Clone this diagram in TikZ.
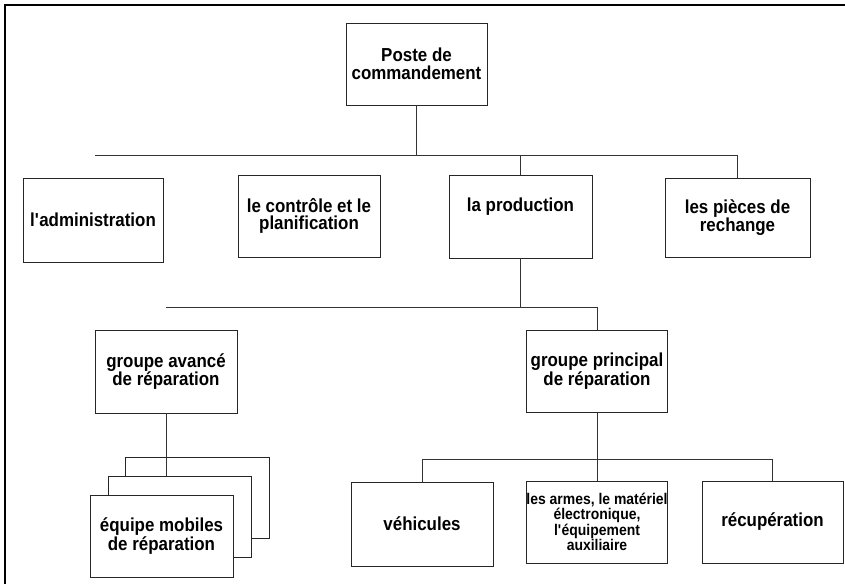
\documentclass[tikz,border=0pt]{standalone}
\usepackage{fontspec}
\setmainfont{Liberation Sans}[FakeStretch=0.9]
\usetikzlibrary{positioning}
\tikzset{
  orgbox/.style   = {draw=black!85, line width=0.7pt, fill=white, minimum width=142pt, minimum height=82pt, inner sep=0pt, align=center, font=\fontsize{18.8}{17.5}\selectfont\bfseries},
  smallbox/.style = {orgbox, font=\fontsize{15.5}{15.5}\selectfont\bfseries},
  card/.style     = {draw=black!85, line width=0.7pt, fill=white, minimum width=143pt, minimum height=81pt},
  link/.style     = {black!80, line width=0.7pt},
  pageframe/.style = {line width=1.3pt}
}

\begin{document}
\begin{tikzpicture}[x=1pt, y=-1pt]
  \useasboundingbox (0,0) rectangle (845,584);
  \draw[pageframe] (845,5) -- (5,5) -- (5,584);

  % top
  \node[orgbox, minimum width=141pt] (poste) at (416.5,64) {Poste de\\ commandement};

  % services
  \node[orgbox, minimum width=140pt, minimum height=84pt] (admin) at (93,220) {l\textquotesingle administration};
  \node[orgbox, minimum height=82pt] (controle) at (309,216) {le contrôle et le\\ planification};
  \node[orgbox, minimum width=143pt, minimum height=83pt] (prod) at (520.5,216.5) {la production\\ \strut};
  \node[orgbox, minimum width=145pt, minimum height=79pt] (pieces) at (737.5,217.5) {les pièces de\\ rechange};

  % groupes
  \node[orgbox, minimum height=83pt] (avance) at (166,371.5) {groupe avancé\\ de réparation};
  \node[orgbox, minimum width=141pt] (principal) at (597,371) {groupe principal\\ de réparation};

  % ateliers
  \node[orgbox, minimum height=84pt] (vehicules) at (422,524) {véhicules};
  \node[smallbox, minimum width=141pt] (armes) at (597,522) {les armes, le matériel\\ électronique,\\ l\textquotesingle équipement\\ auxiliaire};
  \node[orgbox, minimum width=141pt] (recup) at (772.5,522) {récupération};

  % equipes mobiles (pile)
  \node[card, minimum width=144pt] (card3) at (197,497.5) {};
  \node[card] (card2) at (179.5,516.5) {};
  \draw[link] (avance.south) -- (avance.south |- card2.north);
  \node[orgbox, minimum width=143pt] (mobile) at (161.5,536) {équipe mobiles\\ de réparation};

  % liaisons
  \coordinate (bus1) at (95,155);
  \coordinate (bus2) at (166,307);
  \coordinate (bus3) at (0,459);
  \draw[link] (poste.south) -- (poste.south |- bus1);
  \draw[link] (bus1) -| (pieces.north);
  \draw[link] (prod.north) -- (prod.north |- bus1);
  \draw[link] (prod.south) -- (prod.south |- bus2);
  \draw[link] (bus2) -| (principal.north);
  \draw[link] (principal.south) -- (armes.north);
  \draw[link] (vehicules.north) -- (vehicules.north |- bus3) -| (recup.north);
\end{tikzpicture}
\end{document}
